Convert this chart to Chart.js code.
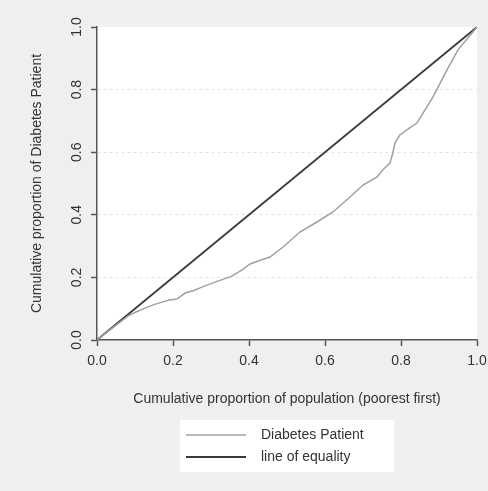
<!DOCTYPE html>
<html lang="en">
<head>
    <meta charset="UTF-8">
    <title>Concentration curve - Diabetes Patient</title>
    <script src="https://cdn.jsdelivr.net/npm/chart.js"></script>
    <style>
        body { margin: 0; background: #efefef; }
        #wrap { width: 488px; height: 491px; }
    </style>
</head>
<body>
    <div id="wrap">
        <canvas id="curveChart" width="488" height="491"></canvas>
    </div>
    <script>
        // cumulative proportion of population (poorest first)
        const popShare = [0, 0.04, 0.082, 0.10, 0.126, 0.15, 0.171, 0.19, 0.21, 0.232, 0.255, 0.276, 0.30, 0.318,
            0.355, 0.382, 0.403, 0.43, 0.455, 0.49, 0.534, 0.579, 0.621, 0.666, 0.70, 0.737, 0.753, 0.771,
            0.779, 0.784, 0.797, 0.82, 0.842, 0.858, 0.884, 0.921, 0.95, 1.0];
        // cumulative proportion of diabetes patients
        const diabetesShare = [0, 0.038, 0.077, 0.088, 0.102, 0.113, 0.121, 0.128, 0.131, 0.150, 0.158, 0.169, 0.180, 0.188,
            0.204, 0.224, 0.243, 0.255, 0.265, 0.297, 0.345, 0.377, 0.409, 0.457, 0.495, 0.521, 0.545, 0.565,
            0.600, 0.629, 0.655, 0.675, 0.693, 0.725, 0.776, 0.863, 0.927, 1.0];
        const equalityX = [0, 1];
        const equalityY = [0, 1];
        const tickValues = [0, 0.2, 0.4, 0.6, 0.8, 1.0];
        const seriesNames = ['Diabetes Patient', 'line of equality'];

        const font = { family: "'Liberation Sans', Arial, sans-serif", size: 14 };

        // grey page, white plot area
        const background = {
            id: 'background',
            beforeDraw(chart) {
                const { ctx, chartArea: a } = chart;
                ctx.save();
                ctx.fillStyle = '#efefef';
                ctx.fillRect(0, 0, chart.width, chart.height);
                ctx.fillStyle = '#ffffff';
                ctx.fillRect(a.left, a.top, a.right - a.left, a.bottom - a.top);
                ctx.restore();
            }
        };

        // legend stacked in a white box under the axis title
        const boxLegend = {
            id: 'boxLegend',
            afterDraw(chart) {
                const { ctx, chartArea: a } = chart;
                const cx = (a.left + a.right) / 2;
                const boxW = 214, boxH = 52, top = a.bottom + 80;
                ctx.save();
                ctx.fillStyle = '#ffffff';
                ctx.fillRect(cx - boxW / 2, top, boxW, boxH);
                ctx.font = font.size + 'px ' + font.family;
                ctx.textBaseline = 'middle';
                ctx.fillStyle = '#333';
                chart.data.datasets.forEach((ds, i) => {
                    const y = top + 15 + i * 22;
                    ctx.strokeStyle = ds.borderColor;
                    ctx.lineWidth = ds.borderWidth;
                    ctx.beginPath();
                    ctx.moveTo(cx - 101, y);
                    ctx.lineTo(cx - 41, y);
                    ctx.stroke();
                    ctx.fillText(ds.label, cx - 26, y);
                });
                ctx.restore();
            }
        };

        const ctx = document.getElementById('curveChart').getContext('2d');
        const chart = new Chart(ctx, {
            type: 'scatter',
            data: {
                datasets: [{
                    label: seriesNames[0],
                    data: popShare.map((x, i) => ({ x: x, y: diabetesShare[i] })),
                    showLine: true,
                    borderColor: '#a0a0a0',
                    borderWidth: 1.5,
                    pointRadius: 0,
                    tension: 0
                }, {
                    label: seriesNames[1],
                    data: equalityX.map((x, i) => ({ x: x, y: equalityY[i] })),
                    showLine: true,
                    borderColor: '#3a3a3a',
                    borderWidth: 1.8,
                    pointRadius: 0
                }]
            },
            options: {
                responsive: false,
                animation: false,
                layout: { padding: { left: 29, right: 11, top: 27, bottom: 83 } },
                plugins: {
                    legend: { display: false },
                    tooltip: { enabled: false }
                },
                scales: {
                    x: {
                        type: 'linear',
                        min: 0,
                        max: 1,
                        afterBuildTicks: s => { s.ticks = tickValues.map(v => ({ value: v })); },
                        afterFit: s => { s.height = 68; s.paddingLeft = 0; s.paddingRight = 0; },
                        border: { color: '#555', width: 1.5 },
                        grid: { drawOnChartArea: false, tickLength: 6, color: '#555', tickWidth: 1.5 },
                        ticks: {
                            font: font,
                            color: '#333',
                            padding: 7,
                            maxRotation: 0,
                            callback: v => v.toFixed(1)
                        },
                        title: {
                            display: true,
                            text: 'Cumulative proportion of population (poorest first)',
                            font: font,
                            color: '#333',
                            padding: 0
                        }
                    },
                    y: {
                        type: 'linear',
                        min: 0,
                        max: 1,
                        afterBuildTicks: s => { s.ticks = tickValues.map(v => ({ value: v })); },
                        afterFit: s => { s.width = 68; },
                        border: { color: '#555', width: 1.5, dash: [3, 3] },
                        grid: {
                            tickLength: 6,
                            tickColor: '#555',
                            tickWidth: 1.5,
                            tickBorderDash: [],
                            color: ctx => (ctx.tick && ctx.tick.value > 0 && ctx.tick.value < 1) ? '#e2e2e2' : 'rgba(0,0,0,0)'
                        },
                        ticks: {
                            font: font,
                            color: '#333',
                            padding: 4,
                            minRotation: 90,
                            maxRotation: 90,
                            crossAlign: 'center',
                            callback: v => v.toFixed(1)
                        },
                        title: {
                            display: true,
                            text: 'Cumulative proportion of Diabetes Patient',
                            font: font,
                            color: '#333',
                            padding: 0
                        }
                    }
                }
            },
            plugins: [background, boxLegend]
        });
    </script>
</body>
</html>
